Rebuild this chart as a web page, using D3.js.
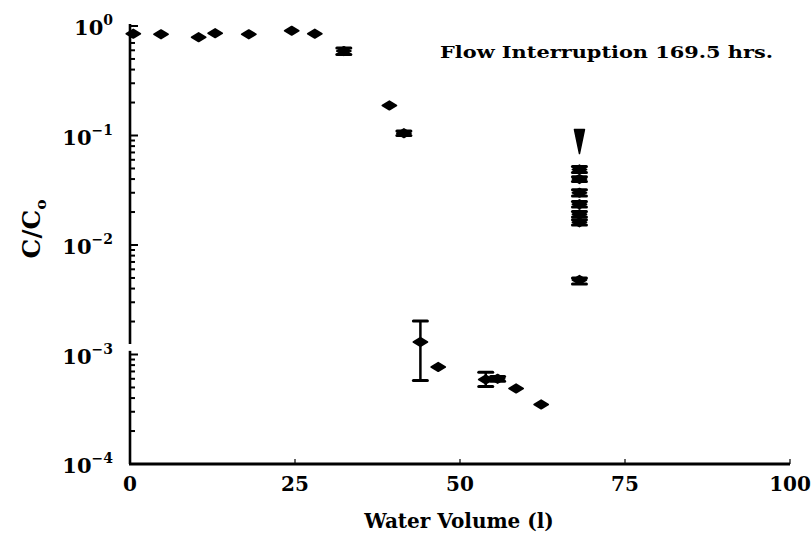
<!DOCTYPE html>
<html>
<head>
<meta charset="utf-8">
<script src="https://cdn.jsdelivr.net/npm/d3@7"></script>
<style>
  html, body { margin: 0; padding: 0; background: #fff; }
  svg { display: block; }
  text { font-family: "DejaVu Serif", "Liberation Serif", serif; font-weight: bold; fill: #000; }
</style>
</head>
<body>
<svg id="chart" width="811" height="534"></svg>
<script>
// ---- data ----
const volume   = [0.5, 4.7, 10.4, 12.9, 18.0, 24.5, 28.0, 32.4, 39.3, 41.5, 44.0, 46.7, 53.9, 55.7, 58.5, 62.3,
                  68.1, 68.1, 68.1, 68.1, 68.1, 68.1, 68.1];
const ratio    = [0.85, 0.84, 0.79, 0.86, 0.84, 0.905, 0.85, 0.59, 0.188, 0.105, 1.3e-3, 7.7e-4, 5.9e-4, 6.0e-4, 4.9e-4, 3.5e-4,
                  0.049, 0.040, 0.030, 0.0236, 0.0191, 0.0161, 0.0048];
const errLow   = [null, null, null, null, null, null, null, 0.55, null, 0.100, 5.8e-4, null, 5.1e-4, 5.7e-4, null, null,
                  0.046, 0.038, 0.028, 0.0222, 0.0180, 0.0152, 0.0044];
const errHigh  = [null, null, null, null, null, null, null, 0.63, null, 0.110, 2.02e-3, null, 6.9e-4, 6.3e-4, null, null,
                  0.052, 0.042, 0.032, 0.0250, 0.0202, 0.0170, 0.0050];
const limitVolume = [68.1];
const limitRatio  = [0.09];
const xTicks = [0, 25, 50, 75, 100];
const yDecades = [0, -1, -2, -3, -4];
const annotation = "Flow Interruption 169.5 hrs.";
const xTitle = "Water Volume (l)";

// ---- layout ----
const svg = d3.select("#chart");
const X0 = 130, X1 = 790, Y0 = 464, Y1 = 26;
const x = d3.scaleLinear().domain([0, 100]).range([X0, X1]);
const y = d3.scaleLog().domain([1e-4, 1]).range([Y0, Y1]);

// y axis line with a small break just above 10^-3
const breakTop = y(1.25e-3), breakBot = y(1.08e-3);
svg.append("line").attr("x1", X0).attr("x2", X0).attr("y1", Y1 - 2).attr("y2", breakTop)
  .attr("stroke", "#000").attr("stroke-width", 2.6);
svg.append("line").attr("x1", X0).attr("x2", X0).attr("y1", breakBot).attr("y2", Y0)
  .attr("stroke", "#000").attr("stroke-width", 2.6);

// y ticks (inward)
const yTickVals = [];
yDecades.forEach(k => {
  yTickVals.push({ v: Math.pow(10, k), major: true });
  if (k > -4) for (let m = 2; m <= 9; m++) yTickVals.push({ v: m * Math.pow(10, k - 1), major: false });
});
svg.append("g").selectAll("line").data(yTickVals).join("line")
  .attr("x1", X0).attr("x2", d => X0 + (d.major ? 8 : 5))
  .attr("y1", d => y(d.v)).attr("y2", d => y(d.v))
  .attr("stroke", "#000").attr("stroke-width", 2);

// y tick labels 10^k
const yl = svg.append("g").selectAll("text").data(yDecades).join("text")
  .attr("x", 113).attr("y", d => y(Math.pow(10, d)) + 9)
  .attr("text-anchor", "end").style("font-size", "21px");
yl.append("tspan").text("10");
yl.append("tspan").attr("dy", -10).style("font-size", "14px").text(d => d === 0 ? "0" : "\u2212" + Math.abs(d));

// x axis
svg.append("line").attr("x1", X0 - 1).attr("x2", X1).attr("y1", Y0).attr("y2", Y0)
  .attr("stroke", "#000").attr("stroke-width", 3);
svg.append("g").selectAll("line").data(xTicks).join("line")
  .attr("x1", d => x(d)).attr("x2", d => x(d)).attr("y1", Y0).attr("y2", Y0 - 5)
  .attr("stroke", "#000").attr("stroke-width", 1.2);
svg.append("g").selectAll("text").data(xTicks).join("text")
  .attr("x", d => x(d)).attr("y", 491).attr("text-anchor", "middle")
  .style("font-size", "20px").text(d => d);

// axis titles
svg.append("text").attr("x", 459).attr("y", 528).attr("text-anchor", "middle")
  .style("font-size", "20px").text(xTitle);
const yt = svg.append("text").attr("transform", "translate(40,229) rotate(-90)")
  .attr("text-anchor", "middle").style("font-size", "25px");
yt.append("tspan").text("C/C");
yt.append("tspan").attr("dy", 6).style("font-size", "15px").text("o");

// annotation
svg.append("text").attr("x", 440).attr("y", 58).style("font-size", "16px")
  .attr("textLength", 333).attr("lengthAdjust", "spacingAndGlyphs").text(annotation);

// data
const pts = volume.map((v, i) => ({ v, r: ratio[i], lo: errLow[i], hi: errHigh[i] }));
const eb = svg.append("g");
pts.filter(d => d.lo != null).forEach(d => {
  eb.append("line").attr("x1", x(d.v)).attr("x2", x(d.v)).attr("y1", y(d.lo)).attr("y2", y(d.hi))
    .attr("stroke", "#000").attr("stroke-width", 2.5);
  [d.lo, d.hi].forEach(val => {
    eb.append("line").attr("x1", x(d.v) - 7).attr("x2", x(d.v) + 7).attr("y1", y(val)).attr("y2", y(val))
      .attr("stroke", "#000").attr("stroke-width", 3).attr("stroke-linecap", "round");
  });
});
svg.append("g").selectAll("path").data(pts).join("path")
  .attr("transform", d => `translate(${x(d.v)},${y(d.r)})`)
  .attr("d", "M-7,0 L0,-4.2 L7,0 L0,4.2 Z")
  .attr("fill", "#000").attr("stroke", "#000").attr("stroke-width", 1.8).attr("stroke-linejoin", "round");

// upper-limit marker (downward triangle)
svg.append("g").selectAll("path").data(limitVolume.map((v, i) => ({ v, r: limitRatio[i] }))).join("path")
  .attr("transform", d => `translate(${x(d.v)},${y(d.r)})`)
  .attr("d", "M-5,-11 L5,-11 L0,13 Z")
  .attr("fill", "#000").attr("stroke", "#000").attr("stroke-width", 1.5).attr("stroke-linejoin", "round");
</script>
</body>
</html>
